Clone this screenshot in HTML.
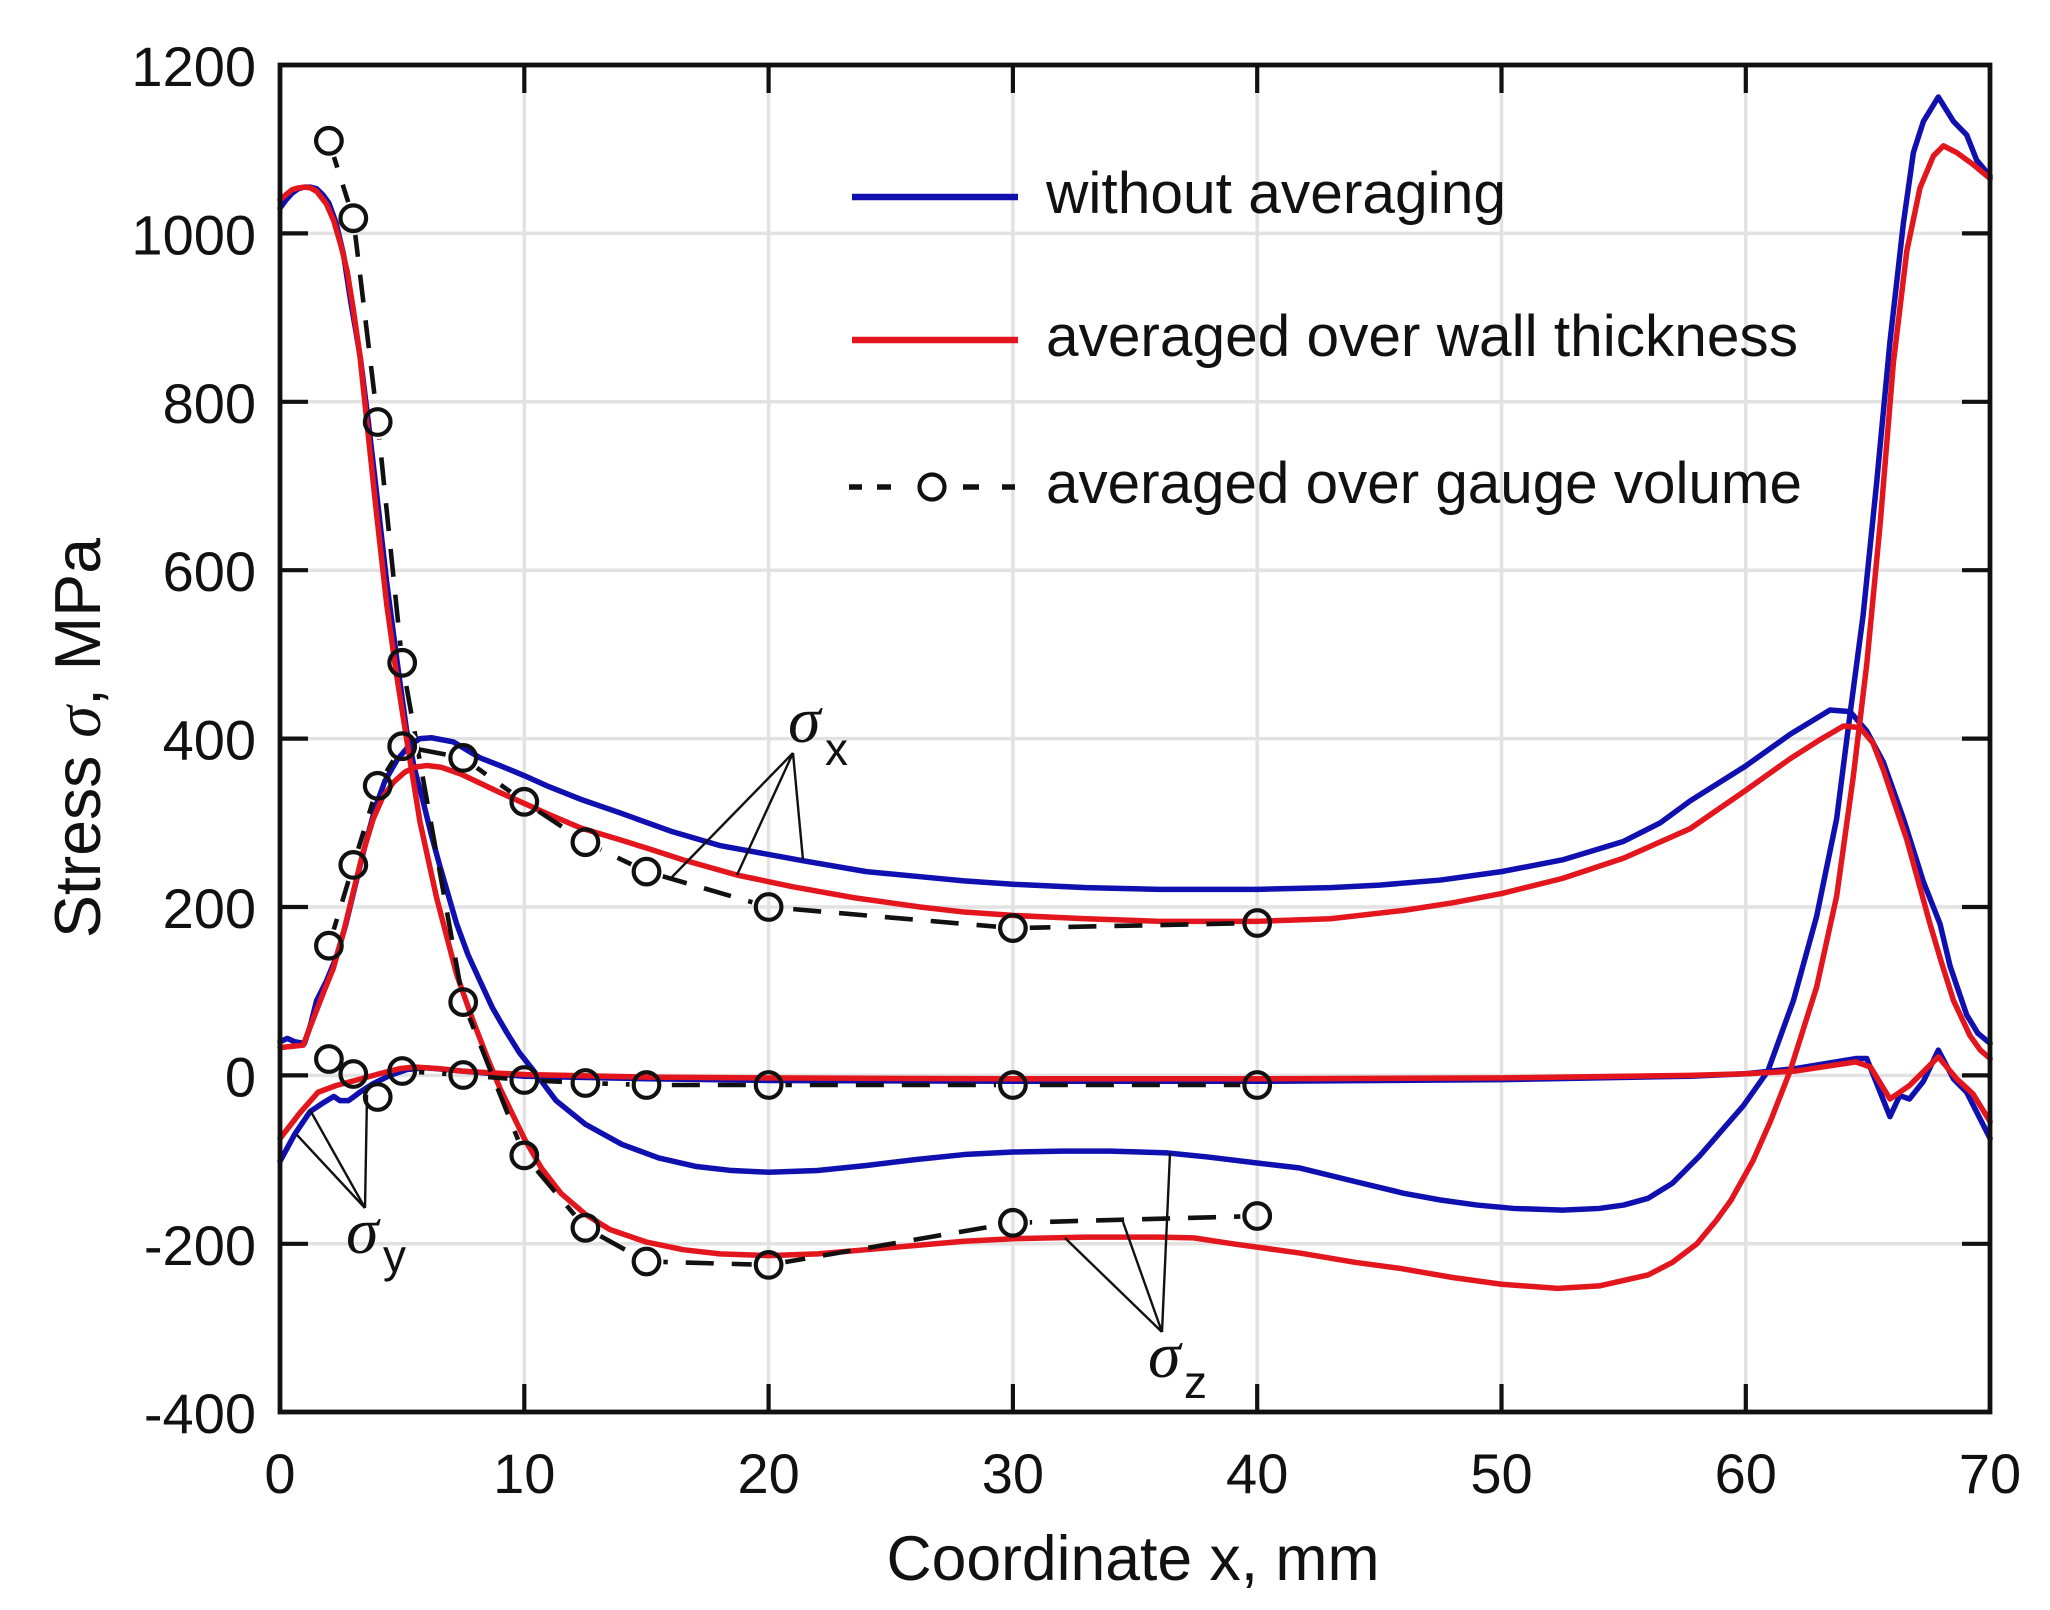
<!DOCTYPE html>
<html>
<head>
<meta charset="utf-8">
<style>
  html, body { margin: 0; padding: 0; background: #ffffff; }
  svg { display: block; }
  text { font-family: "Liberation Sans", Arial, sans-serif; fill: #111; }
  .sig { font-family: "Liberation Serif", "DejaVu Serif", serif; font-style: italic; }
  .c { fill: none; stroke-linejoin: round; stroke-linecap: round; vector-effect: non-scaling-stroke; }
</style>
</head>
<body>
<svg width="2050" height="1610" viewBox="0 0 2050 1610" xmlns="http://www.w3.org/2000/svg">
  <rect x="0" y="0" width="2050" height="1610" fill="#ffffff"/>

  <!-- gridlines -->
  <g stroke="#e2e2e2" stroke-width="3.5">
    <line x1="524.3" y1="65" x2="524.3" y2="1412"/>
    <line x1="768.6" y1="65" x2="768.6" y2="1412"/>
    <line x1="1012.9" y1="65" x2="1012.9" y2="1412"/>
    <line x1="1257.2" y1="65" x2="1257.2" y2="1412"/>
    <line x1="1501.5" y1="65" x2="1501.5" y2="1412"/>
    <line x1="1745.8" y1="65" x2="1745.8" y2="1412"/>
    <line x1="280" y1="233.4" x2="1990" y2="233.4"/>
    <line x1="280" y1="401.8" x2="1990" y2="401.8"/>
    <line x1="280" y1="570.2" x2="1990" y2="570.2"/>
    <line x1="280" y1="738.6" x2="1990" y2="738.6"/>
    <line x1="280" y1="907.0" x2="1990" y2="907.0"/>
    <line x1="280" y1="1075.4" x2="1990" y2="1075.4"/>
    <line x1="280" y1="1243.8" x2="1990" y2="1243.8"/>
  </g>

  <!-- legend -->
  <line x1="852" y1="197" x2="1018" y2="197" stroke="#1010b0" stroke-width="6.5"/>
  <text x="1046" y="213" font-size="58" textLength="460" lengthAdjust="spacingAndGlyphs">without averaging</text>
  <line x1="852" y1="340" x2="1018" y2="340" stroke="#e3161e" stroke-width="6.5"/>
  <text x="1046" y="356" font-size="58" textLength="752" lengthAdjust="spacingAndGlyphs">averaged over wall thickness</text>
  <g stroke="#111" stroke-width="5.5">
    <line x1="849" y1="487" x2="862" y2="487"/>
    <line x1="877" y1="487" x2="891" y2="487"/>
    <line x1="963" y1="487" x2="979" y2="487"/>
    <line x1="1002" y1="487" x2="1015" y2="487"/>
  </g>
  <circle cx="932" cy="487" r="12.5" fill="none" stroke="#111" stroke-width="4.2"/>
  <text x="1046" y="503" font-size="58" textLength="756" lengthAdjust="spacingAndGlyphs">averaged over gauge volume</text>

  <!-- curves in data coordinates -->
  <g transform="matrix(24.43 0 0 -0.842 280 1075.4)">
    <!-- blue: without averaging -->
    <g stroke="#1010b0">
      <polyline class="c" stroke-width="5.5" points="0,1030 0.25,1040 0.5,1048 0.75,1053 1.0,1055 1.25,1055 1.5,1053 1.75,1046 2.0,1036 2.3,1012 2.6,975 2.9,918 3.1,885 3.3,850 3.6,780 3.96,690 4.37,585 4.8,490 5.18,410 5.5,365 5.87,324 6.2,285 6.55,248 7.23,180 7.7,143 8.19,112 8.7,80 9.28,51 9.8,27 10.37,6 11.3,-30 12.5,-58 14,-82 15.5,-98 17,-108 18.5,-113 20,-115 22,-113 24,-107 26,-100 28,-94 30,-91 32,-90 34,-90 36.3,-92 38,-97 40,-104 41.75,-110 44,-126 46,-140 47.5,-148 49,-154 50.5,-158 52.5,-160 54,-158 55,-154 56,-146 57,-128 58.1,-96 59,-66 59.9,-36 60.9,5 61.95,89 62.9,189 63.72,305 64.27,430 64.8,546 65.36,705 65.9,871 66.45,1012 66.86,1096 67.27,1133 67.88,1162 68.5,1133 69.04,1117 69.45,1087 70,1068"/>
      <polyline class="c" stroke-width="5.5" points="0,40 0.3,44 0.6,40 1.0,38 1.25,60 1.5,89 1.9,112 2.3,140 2.7,180 3.1,228 3.5,275 3.9,318 4.3,350 4.8,375 5.3,392 5.73,400 6.2,401 7.1,396 8.2,377 9,368 10,356 11,343 12.3,328 13.9,312 16,290 18,273 21.4,255 24,242 26.2,236 28,231 30,227 33,223 36,221 40,221 43,223 45,226 47.5,232 50,242 52.5,256 55,278 56.5,300 57.72,326 59.97,367 61.81,405 63.0,426 63.45,434 64.27,432 64.95,409 65.63,372 66.45,305 67.27,230 67.95,180 68.36,130 69.04,72 69.5,50 70,38"/>
      <polyline class="c" stroke-width="5.5" points="0,-102 0.6,-70 1.23,-43 1.8,-32 2.2,-25 2.46,-30 2.8,-30 3.27,-20 3.8,-10 4.5,0 5.2,7 6,9 7.5,5 10,-1 15,-4 20,-6 30,-7 40,-7 50,-5 57.7,-1 60,2 62,8 64.5,20 64.95,20 65.9,-49 66.3,-24 66.7,-28 67.27,-7 67.88,30 68.5,-4 69.04,-20 70,-75"/>
    </g>
    <!-- red: averaged over wall thickness -->
    <g stroke="#e3161e">
      <polyline class="c" stroke-width="5.5" points="0,1040 0.25,1046 0.5,1052 0.75,1054 1.0,1055 1.25,1054 1.5,1050 1.9,1035 2.2,1015 2.5,985 2.75,955 3.0,910 3.27,855 3.6,764 3.96,665 4.37,559 4.77,476 5.18,400 5.73,301 6.41,211 7.23,120 7.9,65 8.5,20 9.0,-15 9.5,-45 10,-75 10.7,-110 11.5,-140 12.5,-165 13.5,-183 15,-198 16.5,-207 18,-212 20,-214 22,-212 24,-207 26,-202 28,-197 30,-194 33,-192 36,-192 37.4,-193 39,-200 41.75,-211 44,-222 45.8,-229 48,-240 50,-248 52.3,-253 54,-250 56,-237 57,-222 58,-200 58.8,-172 59.4,-148 60.3,-101 61,-55 61.81,5 62.9,105 63.72,213 64.4,355 64.95,488 65.5,655 66.04,846 66.59,979 67.13,1054 67.68,1092 68.09,1104 68.63,1096 69.3,1082 70,1065"/>
      <polyline class="c" stroke-width="5.5" points="0,33 0.95,36 1.36,67 1.8,100 2.18,127 2.6,170 3.0,218 3.4,265 3.82,305 4.2,330 4.64,348 5.1,360 5.5,366 6.0,368 6.6,366 7.4,358 8.2,347 9,336 10,323 11,310 12.3,294 13.9,280 15,270 16.5,256 18.7,238 21,224 23.5,211 26.2,200 28,194 30,190 33,186 36,183 40,183 43,186 46,196 48,205 50,216 52.5,234 55,258 57.72,293 59.97,338 61.81,376 63,398 64.0,415 64.68,413 65.2,395 65.63,363 66.1,322 66.59,280 67.0,237 67.54,180 68,135 68.5,89 69.18,47 69.6,30 70,20"/>
      <polyline class="c" stroke-width="5.5" points="0,-75 0.8,-45 1.56,-20 2.3,-12 3.2,-5 4.2,3 4.9,8 5.5,10 6.5,8 7.5,5 10,1 15,-2 20,-3 30,-4 40,-4 50,-3 57.7,0 60,2 62,5 64.5,16 65.1,10 65.9,-28 66.7,-12 67.88,22 68.63,-4 69.3,-22 70,-55"/>
    </g>
  </g>

  <!-- gauge-volume dashed series -->
  <defs>
    <mask id="gapmask" maskUnits="userSpaceOnUse" x="0" y="0" width="2050" height="1610">
      <rect x="0" y="0" width="2050" height="1610" fill="#fff"/>
      <g fill="#000">
        <circle cx="328.9" cy="140.8" r="17"/><circle cx="353.3" cy="218.2" r="17"/><circle cx="377.7" cy="422.0" r="17"/><circle cx="402.2" cy="662.8" r="17"/><circle cx="463.2" cy="1002.1" r="17"/><circle cx="524.3" cy="1155.4" r="17"/><circle cx="585.4" cy="1227.8" r="17"/><circle cx="646.5" cy="1261.5" r="17"/><circle cx="768.6" cy="1264.9" r="17"/><circle cx="1012.9" cy="1222.8" r="17"/><circle cx="1257.2" cy="1216.0" r="17"/>
        <circle cx="328.9" cy="945.7" r="17"/><circle cx="353.3" cy="864.9" r="17"/><circle cx="377.7" cy="785.8" r="17"/><circle cx="402.2" cy="746.2" r="17"/><circle cx="463.2" cy="757.9" r="17"/><circle cx="524.3" cy="801.8" r="17"/><circle cx="585.4" cy="842.2" r="17"/><circle cx="646.5" cy="871.6" r="17"/><circle cx="768.6" cy="907.0" r="17"/><circle cx="1012.9" cy="928.1" r="17"/><circle cx="1257.2" cy="923.0" r="17"/>
        <circle cx="328.9" cy="1059" r="17"/><circle cx="353.3" cy="1074" r="17"/><circle cx="377.7" cy="1097" r="17"/><circle cx="402.2" cy="1071" r="17"/><circle cx="463.2" cy="1075" r="17"/><circle cx="524.3" cy="1080" r="17"/><circle cx="585.4" cy="1083" r="17"/><circle cx="646.5" cy="1085" r="17"/><circle cx="768.6" cy="1085" r="17"/><circle cx="1012.9" cy="1085" r="17"/><circle cx="1257.2" cy="1085" r="17"/>
      </g>
    </mask>
  </defs>
  <g mask="url(#gapmask)" fill="none" stroke="#111" stroke-width="4.6" stroke-dasharray="28 18">
    <polyline points="328.9,140.8 353.3,218.2 377.7,422.0 402.2,662.8 463.2,1002.1 524.3,1155.4 585.4,1227.8 646.5,1261.5 768.6,1264.9 1012.9,1222.8 1257.2,1216.0"/>
    <polyline points="328.9,945.7 353.3,864.9 377.7,785.8 402.2,746.2 463.2,757.9 524.3,801.8 585.4,842.2 646.5,871.6 768.6,907.0 1012.9,928.1 1257.2,923.0"/>
    <polyline points="328.9,1059 353.3,1074 377.7,1097 402.2,1071 463.2,1075 524.3,1080 585.4,1083 646.5,1085 768.6,1085 1012.9,1085 1257.2,1085"/>
  </g>
  <g fill="none" stroke="#111" stroke-width="4.2">
    <circle cx="328.9" cy="140.8" r="12.8"/><circle cx="353.3" cy="218.2" r="12.8"/><circle cx="377.7" cy="422.0" r="12.8"/><circle cx="402.2" cy="662.8" r="12.8"/><circle cx="463.2" cy="1002.1" r="12.8"/><circle cx="524.3" cy="1155.4" r="12.8"/><circle cx="585.4" cy="1227.8" r="12.8"/><circle cx="646.5" cy="1261.5" r="12.8"/><circle cx="768.6" cy="1264.9" r="12.8"/><circle cx="1012.9" cy="1222.8" r="12.8"/><circle cx="1257.2" cy="1216.0" r="12.8"/>
    <circle cx="328.9" cy="945.7" r="12.8"/><circle cx="353.3" cy="864.9" r="12.8"/><circle cx="377.7" cy="785.8" r="12.8"/><circle cx="402.2" cy="746.2" r="12.8"/><circle cx="463.2" cy="757.9" r="12.8"/><circle cx="524.3" cy="801.8" r="12.8"/><circle cx="585.4" cy="842.2" r="12.8"/><circle cx="646.5" cy="871.6" r="12.8"/><circle cx="768.6" cy="907.0" r="12.8"/><circle cx="1012.9" cy="928.1" r="12.8"/><circle cx="1257.2" cy="923.0" r="12.8"/>
    <circle cx="328.9" cy="1059" r="12.8"/><circle cx="353.3" cy="1074" r="12.8"/><circle cx="377.7" cy="1097" r="12.8"/><circle cx="402.2" cy="1071" r="12.8"/><circle cx="463.2" cy="1075" r="12.8"/><circle cx="524.3" cy="1080" r="12.8"/><circle cx="585.4" cy="1083" r="12.8"/><circle cx="646.5" cy="1085" r="12.8"/><circle cx="768.6" cy="1085" r="12.8"/><circle cx="1012.9" cy="1085" r="12.8"/><circle cx="1257.2" cy="1085" r="12.8"/>
  </g>

  <!-- annotation leader lines -->
  <g stroke="#111" stroke-width="2.4" fill="none">
    <line x1="793" y1="753" x2="672" y2="877"/>
    <line x1="793" y1="753" x2="737" y2="875"/>
    <line x1="793" y1="753" x2="803" y2="860"/>
    <line x1="365" y1="1208" x2="297" y2="1135"/>
    <line x1="365" y1="1208" x2="310" y2="1110"/>
    <line x1="365" y1="1208" x2="367" y2="1095"/>
    <line x1="1162" y1="1332" x2="1065" y2="1238"/>
    <line x1="1162" y1="1332" x2="1123" y2="1222"/>
    <line x1="1162" y1="1332" x2="1170" y2="1153"/>
  </g>
  <!-- annotation labels -->
  <text class="sig" x="788" y="742" font-size="66">σ</text>
  <text x="825" y="765" font-size="46">x</text>
  <text class="sig" x="346" y="1253" font-size="66">σ</text>
  <text x="383" y="1272" font-size="46">y</text>
  <text class="sig" x="1148" y="1377" font-size="66">σ</text>
  <text x="1184" y="1398" font-size="46">z</text>

  <!-- axes frame -->
  <rect x="280" y="65" width="1710" height="1347" fill="none" stroke="#111" stroke-width="4.8"/>
  <!-- ticks -->
  <g stroke="#111" stroke-width="4.2">
    <line x1="524.3" y1="1412" x2="524.3" y2="1384"/><line x1="768.6" y1="1412" x2="768.6" y2="1384"/>
    <line x1="1012.9" y1="1412" x2="1012.9" y2="1384"/><line x1="1257.2" y1="1412" x2="1257.2" y2="1384"/>
    <line x1="1501.5" y1="1412" x2="1501.5" y2="1384"/><line x1="1745.8" y1="1412" x2="1745.8" y2="1384"/>
    <line x1="524.3" y1="65" x2="524.3" y2="93"/><line x1="768.6" y1="65" x2="768.6" y2="93"/>
    <line x1="1012.9" y1="65" x2="1012.9" y2="93"/><line x1="1257.2" y1="65" x2="1257.2" y2="93"/>
    <line x1="1501.5" y1="65" x2="1501.5" y2="93"/><line x1="1745.8" y1="65" x2="1745.8" y2="93"/>
    <line x1="280" y1="233.4" x2="308" y2="233.4"/><line x1="280" y1="401.8" x2="308" y2="401.8"/>
    <line x1="280" y1="570.2" x2="308" y2="570.2"/><line x1="280" y1="738.6" x2="308" y2="738.6"/>
    <line x1="280" y1="907.0" x2="308" y2="907.0"/><line x1="280" y1="1075.4" x2="308" y2="1075.4"/>
    <line x1="280" y1="1243.8" x2="308" y2="1243.8"/>
    <line x1="1990" y1="233.4" x2="1962" y2="233.4"/><line x1="1990" y1="401.8" x2="1962" y2="401.8"/>
    <line x1="1990" y1="570.2" x2="1962" y2="570.2"/><line x1="1990" y1="738.6" x2="1962" y2="738.6"/>
    <line x1="1990" y1="907.0" x2="1962" y2="907.0"/><line x1="1990" y1="1075.4" x2="1962" y2="1075.4"/>
    <line x1="1990" y1="1243.8" x2="1962" y2="1243.8"/>
  </g>

  <!-- y tick labels -->
  <g font-size="56" text-anchor="end">
    <text x="256" y="86">1200</text>
    <text x="256" y="254.4">1000</text>
    <text x="256" y="422.8">800</text>
    <text x="256" y="591.2">600</text>
    <text x="256" y="759.6">400</text>
    <text x="256" y="928">200</text>
    <text x="256" y="1096.4">0</text>
    <text x="256" y="1264.8">-200</text>
    <text x="256" y="1433.2">-400</text>
  </g>
  <!-- x tick labels -->
  <g font-size="56" text-anchor="middle">
    <text x="280" y="1493">0</text>
    <text x="524.3" y="1493">10</text>
    <text x="768.6" y="1493">20</text>
    <text x="1012.9" y="1493">30</text>
    <text x="1257.2" y="1493">40</text>
    <text x="1501.5" y="1493">50</text>
    <text x="1745.8" y="1493">60</text>
    <text x="1990" y="1493">70</text>
  </g>

  <!-- axis titles -->
  <text x="1133" y="1580" font-size="63" text-anchor="middle" textLength="493" lengthAdjust="spacingAndGlyphs">Coordinate x, mm</text>
  <text transform="translate(100,738) rotate(-90)" font-size="65" text-anchor="middle" textLength="400" lengthAdjust="spacingAndGlyphs">Stress <tspan class="sig">σ</tspan>, MPa</text>
</svg>
</body>
</html>
